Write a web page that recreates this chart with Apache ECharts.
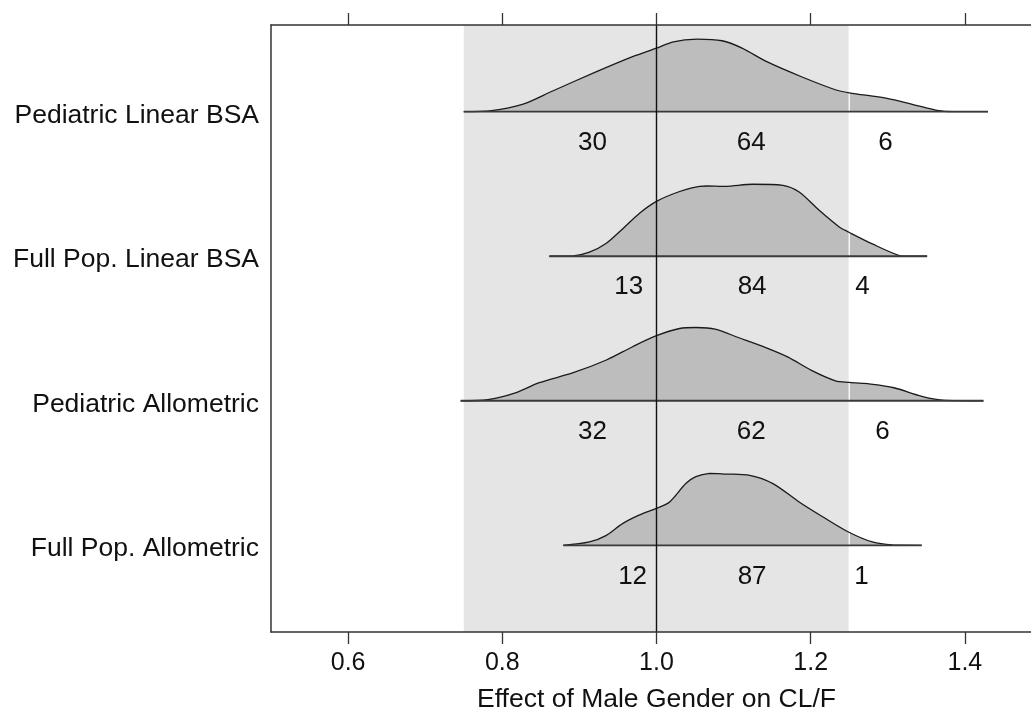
<!DOCTYPE html>
<html><head><meta charset="utf-8">
<script src="https://cdn.jsdelivr.net/npm/echarts@6/dist/echarts.min.js"></script>
<style>html,body{margin:0;padding:0;background:#fff}#c{width:1031px;height:725px}</style>
</head><body><div id="c"></div>
<script>
// ---- data ----
const rowNames = ['Pediatric Linear BSA', 'Full Pop. Linear BSA', 'Pediatric Allometric', 'Full Pop. Allometric'];
const xTickValues = [0.6, 0.8, 1.0, 1.2, 1.4];
const refValue = 1.0;
const bandRange = [0.75, 1.25];

const pedLinX = [0.750,0.786,0.826,0.866,0.920,0.969,1.000,1.022,1.053,1.085,1.111,1.143,1.188,1.232,1.250,1.299,1.334,1.366,1.384,1.430];
const pedLinD = [0,0.007,0.050,0.145,0.272,0.381,0.440,0.484,0.502,0.491,0.440,0.346,0.242,0.152,0.131,0.093,0.048,0.007,0,0];

const fullLinX = [0.861,0.892,0.913,0.935,0.956,0.978,1.000,1.030,1.056,1.090,1.125,1.164,1.185,1.211,1.237,1.249,1.280,1.315,1.332,1.351];
const fullLinD = [0,0.002,0.028,0.090,0.189,0.298,0.380,0.448,0.484,0.484,0.498,0.491,0.445,0.318,0.203,0.168,0.085,0.005,0,0];

const pedAlloX = [0.746,0.781,0.817,0.848,0.892,0.935,0.969,1.000,1.030,1.051,1.076,1.107,1.138,1.170,1.201,1.232,1.250,1.281,1.308,1.344,1.371,1.424];
const pedAlloD = [0,0.007,0.055,0.125,0.194,0.282,0.374,0.450,0.500,0.507,0.495,0.436,0.376,0.304,0.210,0.138,0.127,0.114,0.090,0.031,0.005,0];

const fullAlloX = [0.879,0.913,0.935,0.956,0.978,1.000,1.017,1.038,1.051,1.069,1.090,1.121,1.151,1.185,1.216,1.249,1.280,1.306,1.344];
const fullAlloD = [0,0.023,0.069,0.150,0.210,0.256,0.300,0.427,0.475,0.498,0.493,0.484,0.427,0.300,0.196,0.092,0.023,0.002,0];

const pctBelow  = [30, 13, 32, 12];
const pctWithin = [64, 84, 62, 87];
const pctAbove  = [6, 4, 6, 1];
const pctLabelX = [[0.917,1.123,1.297],[0.964,1.124,1.267],[0.917,1.123,1.293],[0.969,1.124,1.266]];

// ---- layout / style ----
const densities = [[pedLinX, pedLinD], [fullLinX, fullLinD], [pedAlloX, pedAlloD], [fullAlloX, fullAlloD]];
const nRows = rowNames.length;
const yMin = 0, yMax = 4.2;
function baseOf(i) { return 0.6 + (nRows - 1 - i); }
const labelValues = rowNames.map((_, i) => baseOf(i) - 0.025);
const textFont = "'Liberation Sans', Arial, sans-serif";
const axisColor = '#333';

const series = [];

// band
series.push({
  type: 'custom', z: 1, silent: true,
  data: [[bandRange[0], yMin], [bandRange[1], yMax]],
  renderItem: function (params, api) {
    if (params.dataIndex !== 0) return null;
    const p0 = api.coord([bandRange[0], yMax]);
    const p1 = api.coord([bandRange[1], yMin]);
    return { type: 'rect', shape: { x: p0[0], y: p0[1], width: p1[0] - p0[0], height: p1[1] - p0[1] },
             style: { fill: '#e5e5e5' } };
  }
});

// fills
densities.forEach(function (dd, i) {
  const xs = dd[0], ds = dd[1], b = baseOf(i);
  series.push({
    type: 'custom', z: 2, silent: true,
    data: xs.map((x, k) => [x, ds[k]]),
    renderItem: function (params, api) {
      if (params.dataIndex !== 0) return null;
      const pts = xs.map((x, k) => api.coord([x, b + ds[k]]));
      return { type: 'polygon', shape: { points: pts, smooth: 0.3, smoothConstraint: [pts[0], pts[0]] },
               style: { fill: '#bdbdbd' } };
    }
  });
});

// white line at upper band edge
series.push({
  type: 'custom', z: 3, silent: true,
  data: [[bandRange[1], yMin]],
  renderItem: function (params, api) {
    const a = api.coord([bandRange[1], yMin]), c = api.coord([bandRange[1], yMax]);
    return { type: 'line', shape: { x1: a[0], y1: a[1], x2: c[0], y2: c[1] }, style: { stroke: '#ffffff', lineWidth: 1.3 } };
  }
});

// curves and baselines
densities.forEach(function (dd, i) {
  const xs = dd[0], ds = dd[1], b = baseOf(i);
  series.push({
    type: 'custom', z: 4, silent: true,
    data: xs.map((x, k) => [x, ds[k]]),
    renderItem: function (params, api) {
      if (params.dataIndex !== 0) return null;
      const pts = xs.map((x, k) => api.coord([x, b + ds[k]]));
      const l = api.coord([xs[0], b]), r = api.coord([xs[xs.length - 1], b]);
      return { type: 'group', children: [
        { type: 'polyline', shape: { points: pts, smooth: 0.3, smoothConstraint: [pts[0], pts[0]] },
          style: { stroke: '#1a1a1a', lineWidth: 1.3, fill: null } },
        { type: 'line', shape: { x1: l[0], y1: l[1], x2: r[0], y2: r[1] }, style: { stroke: '#3a3a3a', lineWidth: 1.8 } }
      ] };
    }
  });
});

// reference line at 1.0
series.push({
  type: 'custom', z: 5, silent: true,
  data: [[refValue, yMin]],
  renderItem: function (params, api) {
    const a = api.coord([refValue, yMin]), c = api.coord([refValue, yMax]);
    return { type: 'line', shape: { x1: a[0], y1: a[1], x2: c[0], y2: c[1] }, style: { stroke: '#111', lineWidth: 1.4 } };
  }
});

// percentage labels
const pctData = [];
rowNames.forEach(function (_, i) {
  [pctBelow[i], pctWithin[i], pctAbove[i]].forEach(function (v, j) {
    pctData.push([pctLabelX[i][j], baseOf(i) - 0.215, v]);
  });
});
series.push({
  type: 'custom', z: 6, silent: true,
  data: pctData,
  renderItem: function (params, api) {
    const p = api.coord([api.value(0), api.value(1)]);
    return { type: 'text', x: p[0], y: p[1],
             style: { text: String(api.value(2)), fill: '#111', fontSize: 26, fontFamily: textFont, align: 'center', verticalAlign: 'middle' } };
  }
});

const chart = echarts.init(document.getElementById('c'), null, { renderer: 'canvas' });
chart.setOption({
  animation: false,
  backgroundColor: '#fff',
  grid: { left: 271, width: 771, top: 25, bottom: 93, containLabel: false, outerBoundsMode: 'none' },
  xAxis: [{
    type: 'value', min: 0.5, max: 1.5, position: 'bottom', z: 10,
    axisLine: { show: true, onZero: false, lineStyle: { color: axisColor, width: 1.5 } },
    axisTick: { show: true, customValues: xTickValues, length: 12, lineStyle: { color: axisColor, width: 1.3 } },
    axisLabel: { customValues: xTickValues, formatter: v => Number(v).toFixed(1), fontSize: 25, fontFamily: textFont, color: '#111', margin: 19 },
    splitLine: { show: false },
    name: 'Effect of Male Gender on CL/F', nameLocation: 'middle', nameGap: 54,
    nameTextStyle: { fontSize: 26.5, fontFamily: textFont, color: '#111' }
  }, {
    type: 'value', min: 0.5, max: 1.5, position: 'top', z: 10,
    axisLine: { show: true, onZero: false, lineStyle: { color: axisColor, width: 1.5 } },
    axisTick: { show: true, customValues: xTickValues, length: 12, lineStyle: { color: axisColor, width: 1.3 } },
    axisLabel: { show: false },
    splitLine: { show: false }
  }],
  yAxis: [{
    type: 'value', min: yMin, max: yMax, z: 10,
    axisLine: { show: true, onZero: false, lineStyle: { color: axisColor, width: 1.5 } },
    axisTick: { show: false },
    axisLabel: {
      customValues: labelValues,
      formatter: function (v) { const i = nRows - 1 - Math.round(v - 0.6); return rowNames[i] || ''; },
      fontSize: 26.5, fontFamily: textFont, color: '#111', margin: 12
    },
    splitLine: { show: false }
  }],
  series: series
});
</script></body></html>
